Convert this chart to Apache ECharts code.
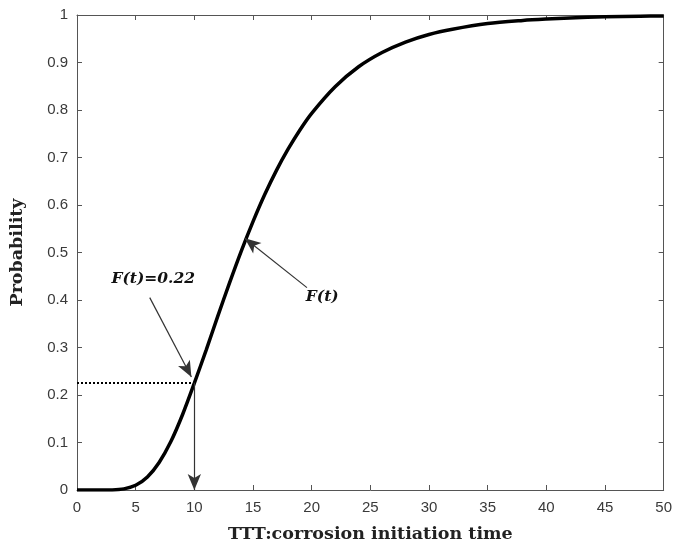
<!DOCTYPE html>
<html><head><meta charset="utf-8">
<script src="https://cdn.jsdelivr.net/npm/echarts@6/dist/echarts.min.js"></script>
<style>html,body{margin:0;padding:0;background:#fff}#c{width:675px;height:548px}</style>
</head><body><div id="c"></div>
<script>
var times = [0,1,2,3,4,5,6,7,8,9,10,11,12,13,14,15,16,17,18,19,20,22,24,26,28,30,32,35,38,40,42,45,48,50];
var probs = [0,0,0,0.0002,0.0023,0.0099,0.0274,0.058,0.102,0.159,0.225,0.294,0.366,0.436,0.503,0.565,0.622,0.673,0.718,0.758,0.793,0.849,0.891,0.921,0.943,0.959,0.970,0.982,0.9886,0.9916,0.9939,0.9961,0.9975,0.9981];
var xTicks = [0,5,10,15,20,25,30,35,40,45,50];
var yTicks = [0,0.1,0.2,0.3,0.4,0.5,0.6,0.7,0.8,0.9,1];
var markT = 10, markF = 0.226;
var labelA = 'F(t)=0.22', labelB = 'F(t)';

var chart = echarts.init(document.getElementById('c'), null, {renderer:'canvas'});
var curve = times.map(function(t,i){return [t, probs[i]];});
var axisLine = {show:true, onZero:false, lineStyle:{color:'#555', width:1}};
var tickX = {show:true, inside:true, length:5, lineStyle:{color:'#555'}};
var tickLabel = {color:'#3a3a3a', fontSize:15, fontFamily:'Arial, Liberation Sans, sans-serif'};
var serifBold = {fontFamily:'DejaVu Serif', fontWeight:'bold', fontSize:17.5, color:'#222'};

chart.setOption({
  animation:false,
  backgroundColor:'#fff',
  grid:{left:76, right:6, top:15, bottom:56},
  xAxis:[{
    type:'value', min:0, max:50, interval:5, position:'bottom',
    axisLine:axisLine, axisTick:tickX, splitLine:{show:false},
    axisLabel:Object.assign({margin:10}, tickLabel),
    name:'TTT:corrosion initiation time', nameLocation:'middle', nameGap:35,
    nameTextStyle:serifBold
  },{
    type:'value', min:0, max:50, interval:5, position:'top',
    axisLine:axisLine, axisTick:tickX, axisLabel:{show:false}, splitLine:{show:false}
  }],
  yAxis:[{
    type:'value', min:0, max:1, interval:0.1, position:'left',
    axisLine:axisLine, axisTick:tickX, splitLine:{show:false},
    axisLabel:Object.assign({margin:9, formatter:function(v){return +v.toFixed(1)+'';}}, tickLabel),
    name:'Probability', nameLocation:'middle', nameGap:51, nameRotate:90,
    nameTextStyle:serifBold
  },{
    type:'value', min:0, max:1, interval:0.1, position:'right',
    axisLine:axisLine, axisTick:tickX, axisLabel:{show:false}, splitLine:{show:false}
  }],
  series:[{
    type:'line', xAxisIndex:0, yAxisIndex:0, data:curve, smooth:0.3,
    showSymbol:false, symbol:'none',
    lineStyle:{color:'#000', width:3.5},
    markLine:{
      silent:true, animation:false, label:{show:false},
      data:[
        [{coord:[0,markF], symbol:'none', lineStyle:{type:[2,2], width:2, color:'#000'}},{coord:[markT,markF], symbol:'none'}],
        [{coord:[markT,markF], symbol:'none', lineStyle:{type:'solid', width:1.2, color:'#333'}},{coord:[markT,0], symbol:'arrow', symbolSize:[10,16]}],
        [{coord:[6.2,0.405], symbol:'none', lineStyle:{type:'solid', width:1.2, color:'#333'}},{coord:[9.75,0.238], symbol:'arrow', symbolSize:[10,16]}],
        [{coord:[19.6,0.426], symbol:'none', lineStyle:{type:'solid', width:1.2, color:'#333'}},{coord:[14.3,0.53], symbol:'arrow', symbolSize:[10,16]}]
      ]
    },
    markPoint:{
      silent:true, symbol:'circle', symbolSize:0,
      label:{show:true, position:'inside', color:'#111', fontFamily:'DejaVu Serif', fontStyle:'italic', fontWeight:'bold', fontSize:15.5},
      data:[
        {coord:[6.5,0.444], value:labelA, label:{formatter:labelA}},
        {coord:[20.9,0.407], value:labelB, label:{formatter:labelB}}
      ]
    }
  }]
});
</script></body></html>
